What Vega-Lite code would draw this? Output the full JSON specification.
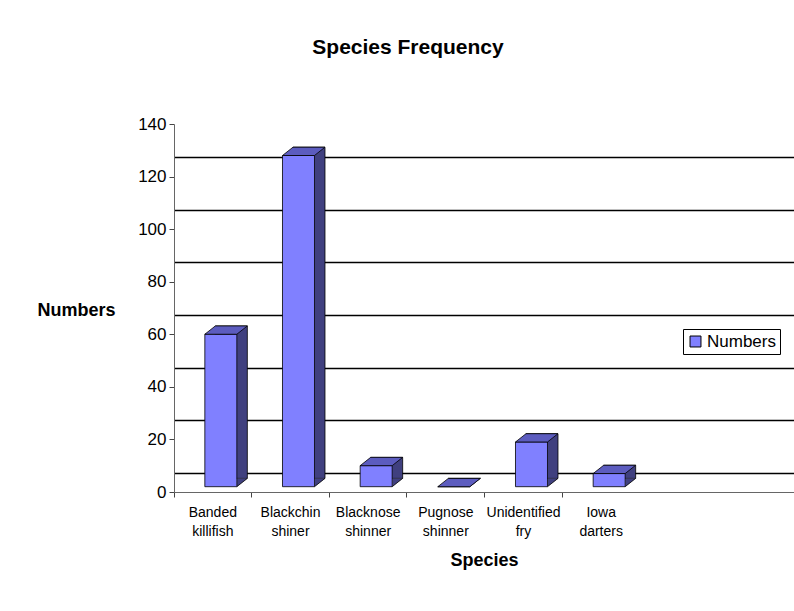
{
  "$schema": "https://vega.github.io/schema/vega-lite/v6.json",
  "width": 620,
  "height": 368,
  "autosize": {"type": "none"},
  "padding": {"left": 174, "top": 124, "right": 0, "bottom": 119},
  "background": "white",
  "config": {
    "font": "Liberation Sans",
    "view": {"stroke": null}
  },
  "title": {
    "text": "Species Frequency",
    "fontSize": 21,
    "fontWeight": "bold",
    "font": "Liberation Sans",
    "color": "black",
    "anchor": "middle",
    "dx": -76,
    "offset": 57
  },
  "data": {
    "values": [
      {"Species": "Banded killifish", "Numbers": 58},
      {"Species": "Blackchin shiner", "Numbers": 126},
      {"Species": "Blacknose shinner", "Numbers": 8},
      {"Species": "Pugnose shinner", "Numbers": 0},
      {"Species": "Unidentified fry", "Numbers": 17},
      {"Species": "Iowa darters", "Numbers": 5}
    ]
  },
  "encoding": {
    "x": {
      "field": "Species",
      "type": "nominal",
      "sort": null,
      "scale": {"paddingInner": 0, "paddingOuter": 0.9915, "align": 0},
      "axis": {
        "title": "Species",
        "titleFontSize": 18,
        "titleFontWeight": "bold",
        "titleColor": "black",
        "titlePadding": 13,
        "labelAngle": 0,
        "labelFontSize": 14,
        "labelColor": "black",
        "labelLineHeight": 19,
        "labelPadding": 8,
        "labelExpr": "split(datum.label, ' ')",
        "bandPosition": 0,
        "tickSize": 5,
        "tickColor": "#444",
        "domainColor": "#666",
        "grid": false
      }
    }
  },
  "layer": [
    {
      "mark": {"type": "point", "opacity": 0},
      "encoding": {
        "y": {
          "field": "Numbers",
          "type": "quantitative",
          "scale": {"domain": [-7.35, 132.65], "nice": false, "zero": false},
          "axis": {
            "orient": "left",
            "title": null,
            "labels": false,
            "ticks": false,
            "domain": false,
            "grid": true,
            "values": [0, 20, 40, 60, 80, 100, 120],
            "gridColor": "black",
            "gridWidth": 1.4,
            "gridOpacity": 1
          }
        }
      }
    },
    {
      "encoding": {
        "y": {
          "field": "Numbers",
          "type": "quantitative",
          "scale": {"domain": [0, 140], "nice": false},
          "axis": {
            "orient": "left",
            "title": "Numbers",
            "titleAngle": 0,
            "titleX": -98,
            "titleY": 186,
            "titleAlign": "center",
            "titleBaseline": "middle",
            "titleFontSize": 18,
            "titleFontWeight": "bold",
            "titleColor": "black",
            "values": [0, 20, 40, 60, 80, 100, 120, 140],
            "labelFontSize": 17,
            "labelColor": "black",
            "labelPadding": 3,
            "tickSize": 5,
            "tickColor": "#444",
            "domainColor": "#666",
            "grid": false
          }
        }
      },
      "layer": [
        {
          "mark": {"type": "bar", "width": 32, "xOffset": 18.5, "yOffset": -13.6, "y2Offset": -13.6, "fill": "#40407f", "stroke": "black", "strokeWidth": 0.8}
        },
        {
          "mark": {"type": "point", "shape": "M 24 -5.3 L 24 -13.6 L 34.5 -13.6 Z", "size": 4, "filled": true, "fill": "#40407f", "opacity": 1, "strokeWidth": 0},
          "encoding": {"y": {"datum": 0}}
        },
        {
          "mark": {"type": "point", "shape": "M 24 -5.3 L 34.5 -13.6", "size": 4, "filled": false, "fill": null, "stroke": "black", "strokeWidth": 0.8, "opacity": 1},
          "encoding": {"y": {"datum": 0}}
        },
        {
          "mark": {"type": "bar", "width": 32, "xOffset": 8, "yOffset": -5.3, "y2Offset": -5.3, "stroke": "black", "strokeWidth": 0.8},
          "encoding": {
            "color": {
              "datum": "Numbers",
              "type": "nominal",
              "scale": {"range": ["#8080ff"]},
              "legend": {
                "title": null,
                "orient": "none",
                "legendX": 509,
                "legendY": 205,
                "symbolType": "square",
                "symbolSize": 120,
                "symbolStrokeColor": "black",
                "symbolStrokeWidth": 1,
                "labelFontSize": 17,
                "labelColor": "black",
                "labelOffset": 3,
                "strokeColor": "black",
                "fillColor": "white",
                "padding": 4
              }
            }
          }
        },
        {
          "mark": {"type": "point", "shape": "M -8 -5.3 L 24 -5.3 L 34.5 -13.6 L 2.5 -13.6 Z", "size": 4, "filled": true, "fill": "#5c5cbf", "stroke": "black", "strokeWidth": 0.8, "opacity": 1}
        }
      ]
    }
  ],
  "resolve": {"scale": {"y": "independent"}, "axis": {"y": "independent"}}
}
